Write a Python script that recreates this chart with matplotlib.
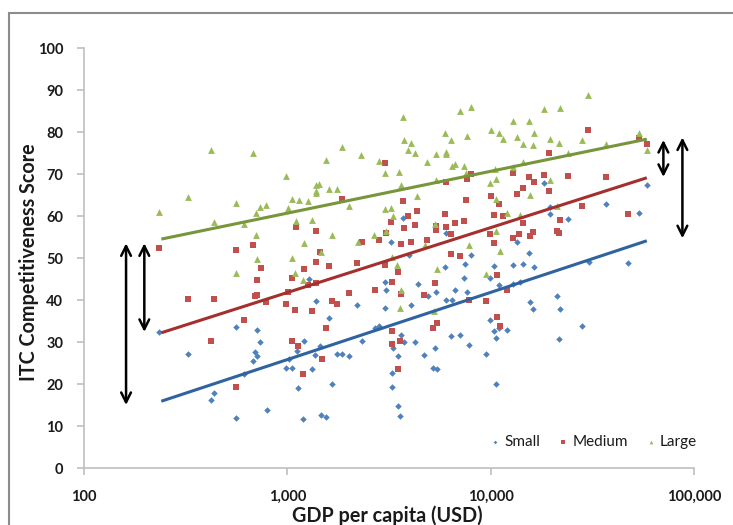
import numpy as np
import matplotlib.pyplot as plt
from matplotlib.patches import Rectangle

plt.rcParams['font.family'] = ['Lato', 'DejaVu Sans']

# GDP per capita (USD) and ITC competitiveness score
small_gdp = [235, 326, 559, 708, 735, 697, 713, 679, 612, 437, 419, 559, 790, 981, 1055,
             1020, 1121, 1125, 3710, 6035, 3235, 3972, 8026, 1275, 5987, 7520, 7435, 3021,
             3066, 4367, 5385, 6688, 7668, 4893, 1387, 2203, 3021, 4050, 6035, 6433, 1601,
             2687, 2822, 3626, 3753, 2325, 1209, 1452, 1372, 1748, 1857, 2021, 4254, 5300,
             4713, 3516, 3298, 6412, 7104, 7809, 1315, 3261, 5203, 5466, 1657, 3261, 3492,
             3585, 1469, 1554, 1196, 18357, 58990, 19526, 19526, 23970, 36970, 53600, 13404,
             15473, 12806, 14352, 10430, 16327, 9966, 10990, 12806, 13920, 30320, 47500,
             21292, 15596, 16196, 21960, 9966, 10430, 10670, 11040, 12095, 27990, 21634,
             9446, 10670]
small_score = [32.5, 27.2, 33.6, 32.8, 30.1, 27.7, 26.7, 25.5, 22.5, 17.9, 16.3, 12.0, 13.7,
               23.7, 23.7, 25.9, 27.9, 19.1, 59.5, 56.0, 53.7, 50.6, 50.8, 45.0, 47.9, 48.6,
               45.3, 44.2, 42.4, 43.9, 41.9, 42.5, 41.9, 41.0, 39.7, 38.9, 38.2, 38.7, 40.0,
               40.1, 35.6, 33.3, 33.8, 31.7, 30.1, 30.2, 30.3, 29.0, 27.0, 27.2, 27.2, 26.7,
               30.1, 28.5, 27.0, 26.7, 28.6, 31.5, 31.7, 29.4, 23.5, 22.7, 23.8, 23.6, 20.0,
               19.4, 14.8, 12.5, 12.7, 12.2, 11.6, 67.8, 67.4, 62.2, 60.4, 59.2, 62.9, 60.8,
               53.9, 51.1, 48.3, 48.5, 48.1, 47.9, 45.3, 43.5, 43.9, 44.4, 49.1, 48.7, 41.0,
               39.6, 37.9, 37.9, 35.3, 32.7, 30.9, 33.3, 32.8, 33.8, 30.8, 27.2, 20.0]

medium_gdp = [235, 559, 679, 738, 708, 697, 713, 787, 1050, 1012, 981, 1092, 326, 437, 612,
              419, 1050, 1125, 559, 3021, 7668, 7962, 6035, 1851, 3710, 7546, 4352, 3940,
              5987, 3235, 4240, 3740, 7410, 6688, 5404, 6035, 5404, 6412, 1104, 1387, 3066,
              2812, 2317, 3626, 4050, 4876, 1452, 6412, 7104, 1376, 1209, 1601, 2196, 3021,
              3516, 1270, 1376, 3283, 5300, 2012, 2687, 3639, 4697, 1657, 1748, 1315, 7809,
              5447, 5203, 1547, 3261, 3585, 3261, 1474, 3504, 1196, 30110, 53600, 58990,
              19436, 12806, 18357, 15473, 16327, 23970, 36970, 14352, 13404, 19436, 10000,
              11040, 27990, 10430, 11467, 14352, 21960, 47500, 9886, 13808, 16085, 15596,
              21292, 21710, 12806, 10430, 10745, 12040, 9446, 10745, 11080]
medium_score = [52.4, 51.8, 53.1, 47.7, 44.8, 41.0, 41.1, 39.5, 45.2, 42.0, 39.0, 37.6, 40.2,
                40.2, 35.2, 30.2, 30.3, 29.0, 19.4, 72.7, 68.9, 69.9, 68.2, 64.0, 63.6, 63.7,
                61.2, 60.1, 60.5, 58.5, 57.8, 57.1, 58.9, 58.3, 57.7, 57.5, 56.7, 55.6, 57.4,
                56.5, 55.9, 54.4, 53.7, 53.3, 53.8, 54.2, 51.5, 51.0, 50.4, 49.1, 47.5, 48.1,
                48.7, 48.3, 46.6, 43.6, 44.1, 44.2, 44.0, 41.6, 42.3, 41.4, 41.3, 39.8, 39.0,
                37.4, 40.0, 34.5, 33.3, 33.3, 32.6, 30.3, 29.5, 26.0, 23.5, 22.4, 80.4, 78.6,
                77.1, 75.0, 70.3, 69.7, 69.3, 68.2, 69.5, 69.2, 66.7, 65.3, 65.9, 64.8, 62.9,
                62.4, 60.2, 60.1, 58.3, 59.0, 60.4, 55.6, 55.6, 56.3, 55.2, 56.5, 56.0, 54.8,
                53.6, 46.0, 42.5, 39.8, 36.0, 33.8]

large_gdp = [419, 679, 326, 235, 985, 559, 437, 612, 735, 787, 705, 1055, 1008, 1104, 703,
             708, 1055, 559, 1087, 7962, 7104, 3710, 5987, 7668, 3740, 4050, 6412, 1851,
             3927, 4240, 5404, 6035, 6035, 2307, 1554, 2812, 4876, 6688, 6463, 7410, 3021,
             3532, 7581, 1424, 1387, 1376, 1376, 1601, 1748, 1147, 1270, 5404, 3626, 4352,
             2021, 3021, 3235, 3298, 1315, 5300, 1657, 2674, 3066, 1209, 2221, 4729, 7809,
             1469, 3261, 3476, 5447, 1196, 3639, 3585, 5239, 30110, 18357, 21960, 12806,
             15473, 10000, 11040, 11467, 13404, 16327, 14352, 16196, 19594, 21634, 27990,
             36970, 53600, 58990, 23970, 14352, 12850, 10500, 10670, 9886, 19594, 15650,
             10670, 12095, 13920, 21292, 10670, 11120, 9522]
large_score = [75.7, 75.0, 64.5, 61.0, 69.6, 63.1, 58.6, 58.2, 62.1, 62.6, 60.7, 64.0, 61.8,
               58.8, 55.4, 49.8, 50.1, 46.4, 46.5, 86.0, 85.0, 83.6, 79.8, 79.1, 78.0, 77.5,
               78.0, 76.4, 75.6, 75.0, 74.8, 75.3, 74.8, 74.5, 73.3, 73.0, 72.8, 72.5, 71.9,
               71.9, 70.2, 70.4, 70.3, 67.7, 67.4, 66.0, 65.4, 66.4, 66.4, 63.7, 63.5, 68.5,
               67.3, 64.8, 62.5, 61.7, 61.8, 60.0, 59.0, 58.1, 55.5, 55.5, 56.4, 53.6, 53.8,
               53.0, 53.1, 51.5, 50.3, 48.3, 47.3, 44.7, 42.5, 38.2, 37.4, 88.8, 85.4, 85.8,
               82.6, 82.6, 80.4, 79.7, 78.4, 78.8, 79.7, 77.2, 76.8, 78.4, 77.5, 78.0, 77.1,
               79.8, 75.6, 75.0, 72.9, 71.7, 71.1, 68.9, 67.8, 68.6, 64.9, 64.0, 60.8, 60.2,
               62.5, 56.4, 51.7, 46.3]

# logarithmic trend lines (end points)
trend_gdp = [240, 58600]
trend_small = [15.9, 54.1]
trend_medium = [32.2, 69.1]
trend_large = [54.5, 78.3]

# gap arrows: (gdp, top, bottom)
arrows = [(161, 53.5, 15.0), (198, 53.5, 32.4), (70700, 78.1, 69.3), (87700, 78.7, 54.7)]

fig = plt.figure(figsize=(7.33, 5.25), dpi=100)
ax = fig.add_axes([84 / 733, 1 - 468 / 525, 610 / 733, 420 / 525])

ax.scatter(small_gdp, small_score, marker='D', s=11, color='#4F81BD', linewidths=0, label='Small', zorder=3)
ax.scatter(medium_gdp, medium_score, marker='s', s=20, color='#C0504D', linewidths=0, label='Medium', zorder=3)
ax.scatter(large_gdp, large_score, marker='^', s=24, color='#9BBB59', linewidths=0, label='Large', zorder=3)

ax.plot(trend_gdp, trend_small, color='#2F63A0', lw=2.2, solid_capstyle='butt', zorder=4)
ax.plot(trend_gdp, trend_medium, color='#A3302D', lw=2.2, solid_capstyle='butt', zorder=4)
ax.plot(trend_gdp, trend_large, color='#77953A', lw=2.2, solid_capstyle='butt', zorder=4)

for x, top, bot in arrows:
    ax.annotate('', xy=(x, top), xytext=(x, bot),
                arrowprops=dict(arrowstyle='<->,head_length=0.7,head_width=0.35',
                                lw=1.8, color='black', shrinkA=0, shrinkB=0))

ax.set_xscale('log')
ax.set_xlim(100, 100000)
ax.set_ylim(0, 100)
ax.set_yticks(np.arange(0, 101, 10))
ax.set_xticks([100, 1000, 10000, 100000])
ax.set_xticklabels(['100', '1,000', '10,000', '100,000'])
ax.minorticks_off()

for s in ['top', 'right']:
    ax.spines[s].set_visible(False)
for s in ['left', 'bottom']:
    ax.spines[s].set_color('#BFBFBF')
    ax.spines[s].set_linewidth(1.2)
ax.tick_params(axis='both', direction='out', length=5, width=1.2, color='#BFBFBF',
               labelsize=10.5, labelcolor='#1A1A1A')
ax.tick_params(axis='y', pad=10)
ax.tick_params(axis='x', pad=11)
for lab in ax.get_xticklabels() + ax.get_yticklabels():
    lab.set_fontweight('bold')

ax.set_xlabel('GDP per capita (USD)', fontsize=14.2, fontweight='bold', color='#1A1A1A')
ax.set_ylabel('ITC Competitiveness Score', fontsize=14.2, fontweight='bold', color='#1A1A1A')
ax.xaxis.set_label_coords(0.498, -0.088)
ax.yaxis.set_label_coords(-0.073, 0.49)

ax.legend(loc='center', bbox_to_anchor=(0.833, 0.062), ncol=3, frameon=False, fontsize=11,
          markerscale=0.55, handletextpad=0.1, columnspacing=1.0, handlelength=1.0,
          labelcolor='#1A1A1A')

# chart area border
fig.patches.append(Rectangle((9 / 733, -0.05), 1.1, 1 - 13 / 525 + 0.05, transform=fig.transFigure,
                             fill=False, edgecolor='#8C8C8C', lw=1.5))

fig.savefig('out.png', dpi=100)
